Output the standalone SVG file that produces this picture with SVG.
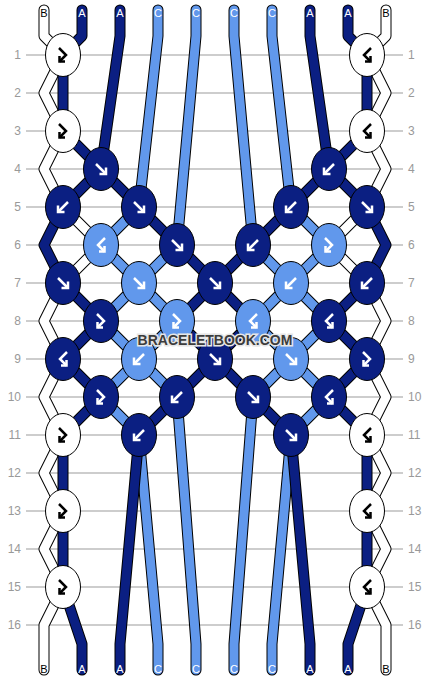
<svg xmlns="http://www.w3.org/2000/svg" xmlns:xlink="http://www.w3.org/1999/xlink" width="430" height="680" viewBox="0 0 430 680">
<style>
.grid line{stroke:#bdbdbd;stroke-width:1.3}
.num{font-family:"Liberation Sans",Arial,sans-serif;font-size:12px;fill:#999}
.lab{font-family:"Liberation Sans",Arial,sans-serif;font-size:11px;text-anchor:middle}
.ol{fill:none;stroke:#000;stroke-width:11;stroke-linejoin:round;stroke-linecap:round}
.sw{fill:none;stroke:#fff;stroke-width:9;stroke-linejoin:round;stroke-linecap:round}
.sd{fill:none;stroke:#0b1f82;stroke-width:9;stroke-linejoin:round;stroke-linecap:round}
.sl{fill:none;stroke:#6198ec;stroke-width:9;stroke-linejoin:round;stroke-linecap:round}
.kw{fill:#fff;stroke:#000;stroke-width:1}
.kd{fill:#0b1f82;stroke:#000;stroke-width:1}
.kl{fill:#6198ec;stroke:#000;stroke-width:1}
.aw{fill:none;stroke:#fff;stroke-width:2.5}
.ab{fill:none;stroke:#000;stroke-width:2.5}
.wm{font-family:"Liberation Sans",Arial,sans-serif;font-size:14px;font-weight:bold;fill:#3c3c3c;stroke:#e6e6e6;stroke-width:3;paint-order:stroke;text-anchor:middle}
</style>
<defs>
<g id="f"><path d="M-5,-5 L4,4"/><path d="M-1.5,5 L5,5 L5,-1.5"/></g>
<g id="b"><path d="M5,-5 L-4,4"/><path d="M1.5,5 L-5,5 L-5,-1.5"/></g>
<g id="fb"><path d="M-4,-7 L3,0 L-3.5,6.5"/><path d="M-3.5,1 L-3.5,6.5 L2,6.5"/></g>
<g id="bf"><path d="M4,-7 L-3,0 L3.5,6.5"/><path d="M3.5,1 L3.5,6.5 L-2,6.5"/></g>
<path id="p0" d="M44,10 L44,36 L63,55 L44,93 L63,131 L44,169 L63,207 L101,245 L63,283 L44,321 L63,359 L44,397 L63,435 L44,473 L63,511 L44,549 L63,587 L44,625 L44,644 L44,670"/>
<path id="p9" d="M386,10 L386,36 L367,55 L386,93 L367,131 L386,169 L367,207 L329,245 L367,283 L386,321 L367,359 L386,397 L367,435 L386,473 L367,511 L386,549 L367,587 L386,625 L386,644 L386,670"/>
<path id="p1" d="M82,10 L82,36 L63,55 L63,131 L101,169 L139,207 L177,245 L215,283 L253,321 L215,359 L177,397 L139,435 L120,644 L120,670"/>
<path id="p2" d="M120,10 L120,36 L101,169 L63,207 L44,245 L63,283 L101,321 L63,359 L101,397 L63,435 L63,511 L63,587 L82,644 L82,670"/>
<path id="p3" d="M158,10 L158,36 L139,207 L101,245 L139,283 L177,321 L139,359 L101,397 L139,435 L158,644 L158,670"/>
<path id="p4" d="M196,10 L196,36 L177,245 L139,283 L101,321 L139,359 L177,397 L196,644 L196,670"/>
<path id="p5" d="M234,10 L234,36 L253,245 L291,283 L329,321 L291,359 L253,397 L234,644 L234,670"/>
<path id="p6" d="M272,10 L272,36 L291,207 L329,245 L291,283 L253,321 L291,359 L329,397 L291,435 L272,644 L272,670"/>
<path id="p7" d="M310,10 L310,36 L329,169 L367,207 L386,245 L367,283 L329,321 L367,359 L329,397 L367,435 L367,511 L367,587 L348,644 L348,670"/>
<path id="p8" d="M348,10 L348,36 L367,55 L367,131 L329,169 L291,207 L253,245 L215,283 L177,321 L215,359 L253,397 L291,435 L310,644 L310,670"/>
</defs>
<rect width="430" height="680" fill="#fff"/>
<g class="grid">
<line x1="26" y1="55" x2="403" y2="55"/><line x1="26" y1="93" x2="403" y2="93"/><line x1="26" y1="131" x2="403" y2="131"/><line x1="26" y1="169" x2="403" y2="169"/>
<line x1="26" y1="207" x2="403" y2="207"/><line x1="26" y1="245" x2="403" y2="245"/><line x1="26" y1="283" x2="403" y2="283"/><line x1="26" y1="321" x2="403" y2="321"/>
<line x1="26" y1="359" x2="403" y2="359"/><line x1="26" y1="397" x2="403" y2="397"/><line x1="26" y1="435" x2="403" y2="435"/><line x1="26" y1="473" x2="403" y2="473"/>
<line x1="26" y1="511" x2="403" y2="511"/><line x1="26" y1="549" x2="403" y2="549"/><line x1="26" y1="587" x2="403" y2="587"/><line x1="26" y1="625" x2="403" y2="625"/>
</g>
<g class="num" text-anchor="end">
<text x="21" y="59">1</text><text x="21" y="97">2</text><text x="21" y="135">3</text><text x="21" y="173">4</text>
<text x="21" y="211">5</text><text x="21" y="249">6</text><text x="21" y="287">7</text><text x="21" y="325">8</text>
<text x="21" y="363">9</text><text x="21" y="401">10</text><text x="21" y="439">11</text><text x="21" y="477">12</text>
<text x="21" y="515">13</text><text x="21" y="553">14</text><text x="21" y="591">15</text><text x="21" y="629">16</text>
</g>
<g class="num" text-anchor="start">
<text x="408" y="59">1</text><text x="408" y="97">2</text><text x="408" y="135">3</text><text x="408" y="173">4</text>
<text x="408" y="211">5</text><text x="408" y="249">6</text><text x="408" y="287">7</text><text x="408" y="325">8</text>
<text x="408" y="363">9</text><text x="408" y="401">10</text><text x="408" y="439">11</text><text x="408" y="477">12</text>
<text x="408" y="515">13</text><text x="408" y="553">14</text><text x="408" y="591">15</text><text x="408" y="629">16</text>
</g>
<g id="connectors">
<use href="#p0" class="ol"/><use href="#p0" class="sw"/>
<use href="#p9" class="ol"/><use href="#p9" class="sw"/>
<use href="#p3" class="ol"/><use href="#p3" class="sl"/>
<use href="#p4" class="ol"/><use href="#p4" class="sl"/>
<use href="#p5" class="ol"/><use href="#p5" class="sl"/>
<use href="#p6" class="ol"/><use href="#p6" class="sl"/>
<use href="#p1" class="ol"/><use href="#p1" class="sd"/>
<use href="#p2" class="ol"/><use href="#p2" class="sd"/>
<use href="#p7" class="ol"/><use href="#p7" class="sd"/>
<use href="#p8" class="ol"/><use href="#p8" class="sd"/>
</g>
<g id="labels-top" class="lab">
<text x="44" y="16.5" fill="#000">B</text><text x="82" y="16.5" fill="#fff">A</text><text x="120" y="16.5" fill="#fff">A</text><text x="158" y="16.5" fill="#fff">C</text><text x="196" y="16.5" fill="#fff">C</text>
<text x="234" y="16.5" fill="#fff">C</text><text x="272" y="16.5" fill="#fff">C</text><text x="310" y="16.5" fill="#fff">A</text><text x="348" y="16.5" fill="#fff">A</text><text x="386" y="16.5" fill="#000">B</text>
</g>
<g id="labels-bottom" class="lab">
<text x="44" y="672.5" fill="#000">B</text><text x="82" y="672.5" fill="#fff">A</text><text x="120" y="672.5" fill="#fff">A</text><text x="158" y="672.5" fill="#fff">C</text><text x="196" y="672.5" fill="#fff">C</text>
<text x="234" y="672.5" fill="#fff">C</text><text x="272" y="672.5" fill="#fff">C</text><text x="310" y="672.5" fill="#fff">A</text><text x="348" y="672.5" fill="#fff">A</text><text x="386" y="672.5" fill="#000">B</text>
</g>
<g id="knots">
<g id="k1-1" transform="translate(63,55)"><ellipse rx="17.5" ry="21.5" class="kw"/><use href="#fb" class="ab"/></g>
<g id="k1-5" transform="translate(367,55)"><ellipse rx="17.5" ry="21.5" class="kw"/><use href="#bf" class="ab"/></g>
<g id="k3-1" transform="translate(63,131)"><ellipse rx="17.5" ry="21.5" class="kw"/><use href="#fb" class="ab"/></g>
<g id="k3-5" transform="translate(367,131)"><ellipse rx="17.5" ry="21.5" class="kw"/><use href="#bf" class="ab"/></g>
<g id="k4-1" transform="translate(101,169)"><ellipse rx="17.5" ry="21.5" class="kd"/><use href="#f" class="aw"/></g>
<g id="k4-4" transform="translate(329,169)"><ellipse rx="17.5" ry="21.5" class="kd"/><use href="#b" class="aw"/></g>
<g id="k5-1" transform="translate(63,207)"><ellipse rx="17.5" ry="21.5" class="kd"/><use href="#b" class="aw"/></g>
<g id="k5-2" transform="translate(139,207)"><ellipse rx="17.5" ry="21.5" class="kd"/><use href="#f" class="aw"/></g>
<g id="k5-4" transform="translate(291,207)"><ellipse rx="17.5" ry="21.5" class="kd"/><use href="#b" class="aw"/></g>
<g id="k5-5" transform="translate(367,207)"><ellipse rx="17.5" ry="21.5" class="kd"/><use href="#f" class="aw"/></g>
<g id="k6-1" transform="translate(101,245)"><ellipse rx="17.5" ry="21.5" class="kl"/><use href="#bf" class="aw"/></g>
<g id="k6-2" transform="translate(177,245)"><ellipse rx="17.5" ry="21.5" class="kd"/><use href="#f" class="aw"/></g>
<g id="k6-3" transform="translate(253,245)"><ellipse rx="17.5" ry="21.5" class="kd"/><use href="#b" class="aw"/></g>
<g id="k6-4" transform="translate(329,245)"><ellipse rx="17.5" ry="21.5" class="kl"/><use href="#fb" class="aw"/></g>
<g id="k7-1" transform="translate(63,283)"><ellipse rx="17.5" ry="21.5" class="kd"/><use href="#f" class="aw"/></g>
<g id="k7-2" transform="translate(139,283)"><ellipse rx="17.5" ry="21.5" class="kl"/><use href="#f" class="aw"/></g>
<g id="k7-3" transform="translate(215,283)"><ellipse rx="17.5" ry="21.5" class="kd"/><use href="#f" class="aw"/></g>
<g id="k7-4" transform="translate(291,283)"><ellipse rx="17.5" ry="21.5" class="kl"/><use href="#b" class="aw"/></g>
<g id="k7-5" transform="translate(367,283)"><ellipse rx="17.5" ry="21.5" class="kd"/><use href="#b" class="aw"/></g>
<g id="k8-1" transform="translate(101,321)"><ellipse rx="17.5" ry="21.5" class="kd"/><use href="#fb" class="aw"/></g>
<g id="k8-2" transform="translate(177,321)"><ellipse rx="17.5" ry="21.5" class="kl"/><use href="#fb" class="aw"/></g>
<g id="k8-3" transform="translate(253,321)"><ellipse rx="17.5" ry="21.5" class="kl"/><use href="#bf" class="aw"/></g>
<g id="k8-4" transform="translate(329,321)"><ellipse rx="17.5" ry="21.5" class="kd"/><use href="#bf" class="aw"/></g>
<g id="k9-1" transform="translate(63,359)"><ellipse rx="17.5" ry="21.5" class="kd"/><use href="#bf" class="aw"/></g>
<g id="k9-2" transform="translate(139,359)"><ellipse rx="17.5" ry="21.5" class="kl"/><use href="#b" class="aw"/></g>
<g id="k9-3" transform="translate(215,359)"><ellipse rx="17.5" ry="21.5" class="kd"/><use href="#f" class="aw"/></g>
<g id="k9-4" transform="translate(291,359)"><ellipse rx="17.5" ry="21.5" class="kl"/><use href="#f" class="aw"/></g>
<g id="k9-5" transform="translate(367,359)"><ellipse rx="17.5" ry="21.5" class="kd"/><use href="#fb" class="aw"/></g>
<g id="k10-1" transform="translate(101,397)"><ellipse rx="17.5" ry="21.5" class="kd"/><use href="#fb" class="aw"/></g>
<g id="k10-2" transform="translate(177,397)"><ellipse rx="17.5" ry="21.5" class="kd"/><use href="#b" class="aw"/></g>
<g id="k10-3" transform="translate(253,397)"><ellipse rx="17.5" ry="21.5" class="kd"/><use href="#f" class="aw"/></g>
<g id="k10-4" transform="translate(329,397)"><ellipse rx="17.5" ry="21.5" class="kd"/><use href="#bf" class="aw"/></g>
<g id="k11-1" transform="translate(63,435)"><ellipse rx="17.5" ry="21.5" class="kw"/><use href="#fb" class="ab"/></g>
<g id="k11-2" transform="translate(139,435)"><ellipse rx="17.5" ry="21.5" class="kd"/><use href="#b" class="aw"/></g>
<g id="k11-4" transform="translate(291,435)"><ellipse rx="17.5" ry="21.5" class="kd"/><use href="#f" class="aw"/></g>
<g id="k11-5" transform="translate(367,435)"><ellipse rx="17.5" ry="21.5" class="kw"/><use href="#bf" class="ab"/></g>
<g id="k13-1" transform="translate(63,511)"><ellipse rx="17.5" ry="21.5" class="kw"/><use href="#fb" class="ab"/></g>
<g id="k13-5" transform="translate(367,511)"><ellipse rx="17.5" ry="21.5" class="kw"/><use href="#bf" class="ab"/></g>
<g id="k15-1" transform="translate(63,587)"><ellipse rx="17.5" ry="21.5" class="kw"/><use href="#fb" class="ab"/></g>
<g id="k15-5" transform="translate(367,587)"><ellipse rx="17.5" ry="21.5" class="kw"/><use href="#bf" class="ab"/></g>
</g>
<text class="wm" x="215" y="345">BRACELETBOOK.COM</text>
</svg>
